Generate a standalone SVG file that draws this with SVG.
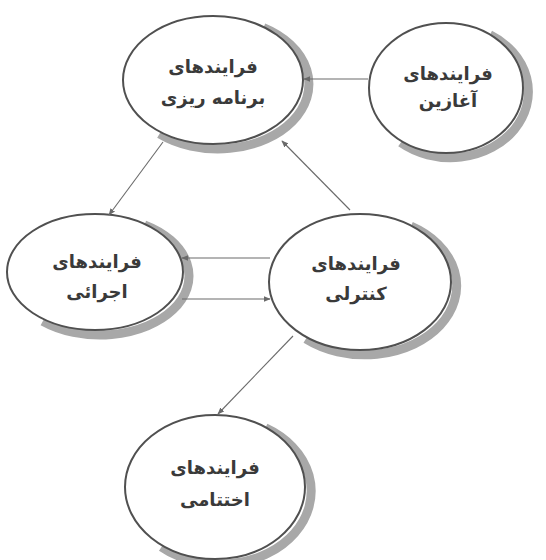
<svg xmlns="http://www.w3.org/2000/svg" width="546" height="560" viewBox="0 0 546 560">
  <style>
    .rim { fill: none; stroke: #a8a8a8; stroke-width: 9; }
    .node { fill: #ffffff; stroke: #505050; stroke-width: 2; }
    .label { font-family: "DejaVu Sans", sans-serif; font-size: 18px; font-weight: bold; fill: #3a3a3a; text-anchor: middle; direction: rtl; }
    .edge { stroke: #6a6a6a; stroke-width: 1.1; fill: none; marker-end: url(#arrow); }
  </style>
  <defs>
    <marker id="arrow" viewBox="0 0 10 10" refX="9" refY="5" markerWidth="7" markerHeight="7" orient="auto" markerUnits="userSpaceOnUse">
      <path d="M0,1 L10,5 L0,9 z" fill="#6a6a6a"/>
    </marker>
  </defs>
  <rect width="546" height="560" fill="#ffffff"/>

  <!-- each node: a grey arc of a slightly shifted ellipse, partly covered by the white ellipse, leaving a tapered rim at the lower right -->
  <g id="planning">
    <path class="rim" d="M263.5,27.7 A91,65 0 1,1 159.5,133.8"/>
    <ellipse class="node" cx="213" cy="80" rx="90" ry="64"/>
    <text class="label" x="213" y="73">فرایندهای</text>
    <text class="label" x="213" y="104">برنامه ریزی</text>
  </g>

  <g id="initiating">
    <path class="rim" d="M490,34.8 A78,66 0 1,1 400.8,142.6"/>
    <ellipse class="node" cx="446" cy="88" rx="77" ry="65"/>
    <text class="label" x="448" y="80">فرایندهای</text>
    <text class="label" x="448" y="107">آغازین</text>
  </g>

  <g id="executing">
    <path class="rim" d="M144.5,224.9 A89,59 0 1,1 42.8,321.2"/>
    <ellipse class="node" cx="95" cy="272" rx="88" ry="58"/>
    <text class="label" x="97" y="268">فرایندهای</text>
    <text class="label" x="97" y="298">اجرائی</text>
  </g>

  <g id="controlling">
    <path class="rim" d="M411,226.2 A92,69 0 1,1 305.9,338.9"/>
    <ellipse class="node" cx="360" cy="282" rx="91" ry="68"/>
    <text class="label" x="356" y="270">فرایندهای</text>
    <text class="label" x="356" y="300">کنترلی</text>
  </g>

  <g id="closing">
    <path class="rim" d="M265.5,427.8 A91,73 0 1,1 161.5,546.9"/>
    <ellipse class="node" cx="215" cy="487" rx="90" ry="72"/>
    <text class="label" x="215" y="474">فرایندهای</text>
    <text class="label" x="215" y="506">اختتامی</text>
  </g>

  <g id="connectors">
    <line class="edge" x1="368" y1="79" x2="304" y2="79"/>
    <line class="edge" x1="163" y1="142" x2="109" y2="215"/>
    <line class="edge" x1="350" y1="210" x2="282" y2="141"/>
    <line class="edge" x1="270" y1="258" x2="182" y2="258"/>
    <line class="edge" x1="182" y1="299" x2="270" y2="299"/>
    <line class="edge" x1="293" y1="336" x2="218" y2="414"/>
  </g>
</svg>
